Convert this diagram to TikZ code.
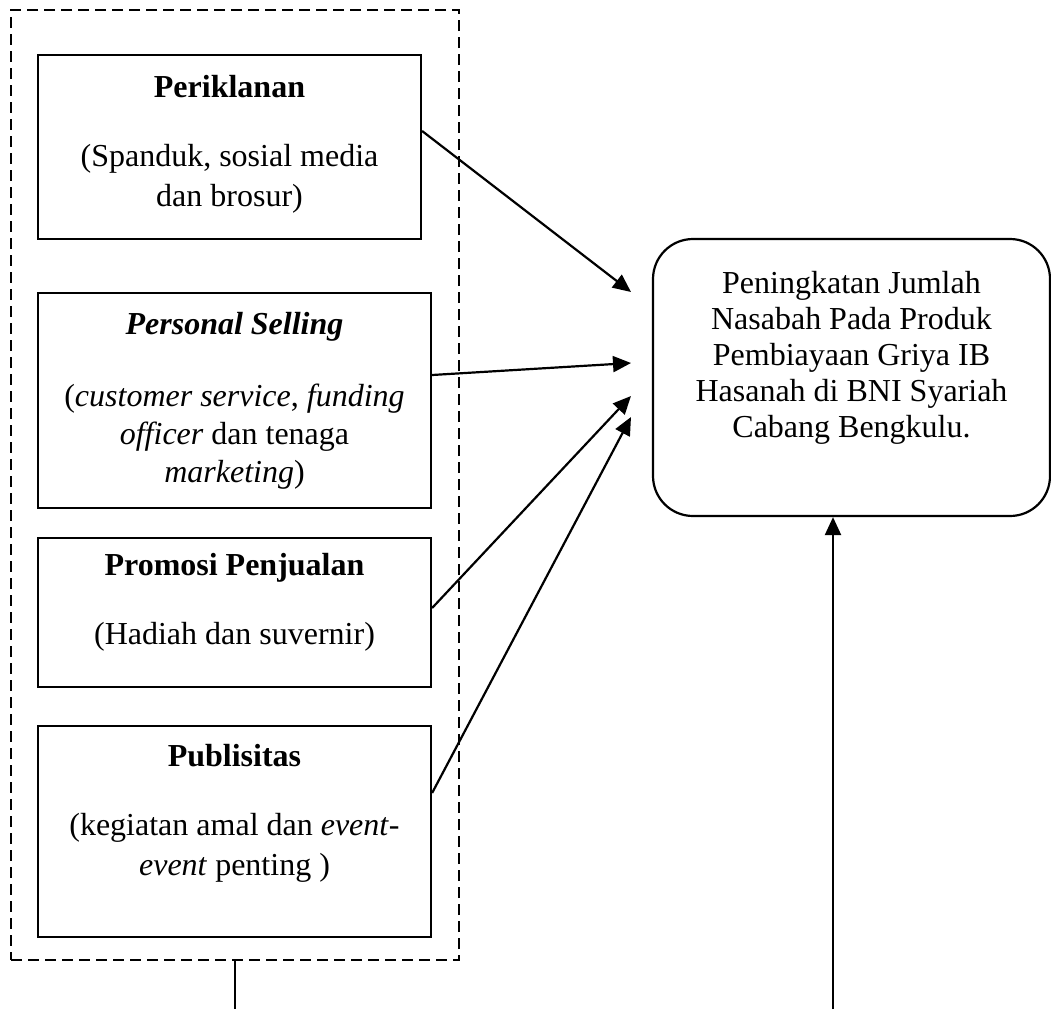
\documentclass[tikz,border=0pt]{standalone}
\usepackage{fontspec}
\setmainfont{Liberation Serif}
\usetikzlibrary{arrows.meta, positioning, calc}

\begin{document}
\begin{tikzpicture}[x=1pt, y=-1pt,
  kotak/.style={draw, line width=2.2pt, inner sep=0pt},
  judul/.style={font=\fontsize{32}{38}\selectfont\bfseries},
  ket/.style={font=\fontsize{32}{40}\selectfont, align=center},
  panah/.style={line width=2.2pt, -{Triangle[length=18pt, width=16pt]}}]
  \useasboundingbox (0,0) rectangle (1051,1009);
  \node[kotak, dash pattern=on 11pt off 6pt, minimum width=448pt, minimum height=950pt] (strategi) at (235,485) {};
  \node[kotak, minimum width=383pt, minimum height=184pt] (iklan) at (229.5,147) {};
  \node[kotak, minimum width=393pt, minimum height=215pt] (personal) at (234.5,400.5) {};
  \node[kotak, minimum width=393pt, minimum height=149pt] (promosi) at (234.5,612.5) {};
  \node[kotak, minimum width=393pt, minimum height=211pt] (publisitas) at (234.5,831.5) {};
  \node[kotak, rounded corners=40pt, minimum width=397pt, minimum height=277pt] (tujuan) at (851.5,377.5) {};

  \node[judul] (judul1) at (229.5,87) {Periklanan};
  \node[ket] (ket1) at (229.5,179) {(Spanduk, sosial media\\dan brosur)};
  \node[judul] (judul2) at (234.5,327) {\itshape Personal Selling};
  \node[ket, font=\fontsize{32}{38}\selectfont] (ket2) at (234.5,437)
    {(\textit{customer service}, \textit{funding}\\\textit{officer} dan tenaga\\\textit{marketing})};
  \node[judul] (judul3) at (234.5,568) {Promosi Penjualan};
  \node[ket] (ket3) at (234.5,637) {(Hadiah dan suvernir)};
  \node[judul] (judul4) at (234.5,756) {Publisitas};
  \node[ket] (ket4) at (234.5,848) {(kegiatan amal dan \textit{event}-\\\textit{event} penting )};
  \node[ket, font=\fontsize{32}{36}\selectfont] (teks) at (851.5,358)
    {Peningkatan Jumlah\\Nasabah Pada Produk\\Pembiayaan Griya IB\\Hasanah di BNI Syariah\\Cabang Bengkulu.};

  \coordinate (u1) at (631,292);
  \coordinate (u2) at (631,363);
  \coordinate (u3) at (631,396);
  \coordinate (u4) at (631,417);
  \coordinate (bawah1) at (235,1009);
  \coordinate (bawah2) at (833,1009);

  \draw[panah] ([yshift=16pt]iklan.east) -- (u1);
  \draw[panah] ([yshift=25.5pt]personal.east) -- (u2);
  \draw[panah] ([yshift=4.5pt]promosi.east) -- (u3);
  \draw[panah] ([yshift=38.5pt]publisitas.east) -- (u4);
  \draw[line width=2.2pt] (strategi.south) -- (bawah1);
  \draw[panah] (bawah2) -- (tujuan.south -| bawah2);
\end{tikzpicture}
\end{document}
